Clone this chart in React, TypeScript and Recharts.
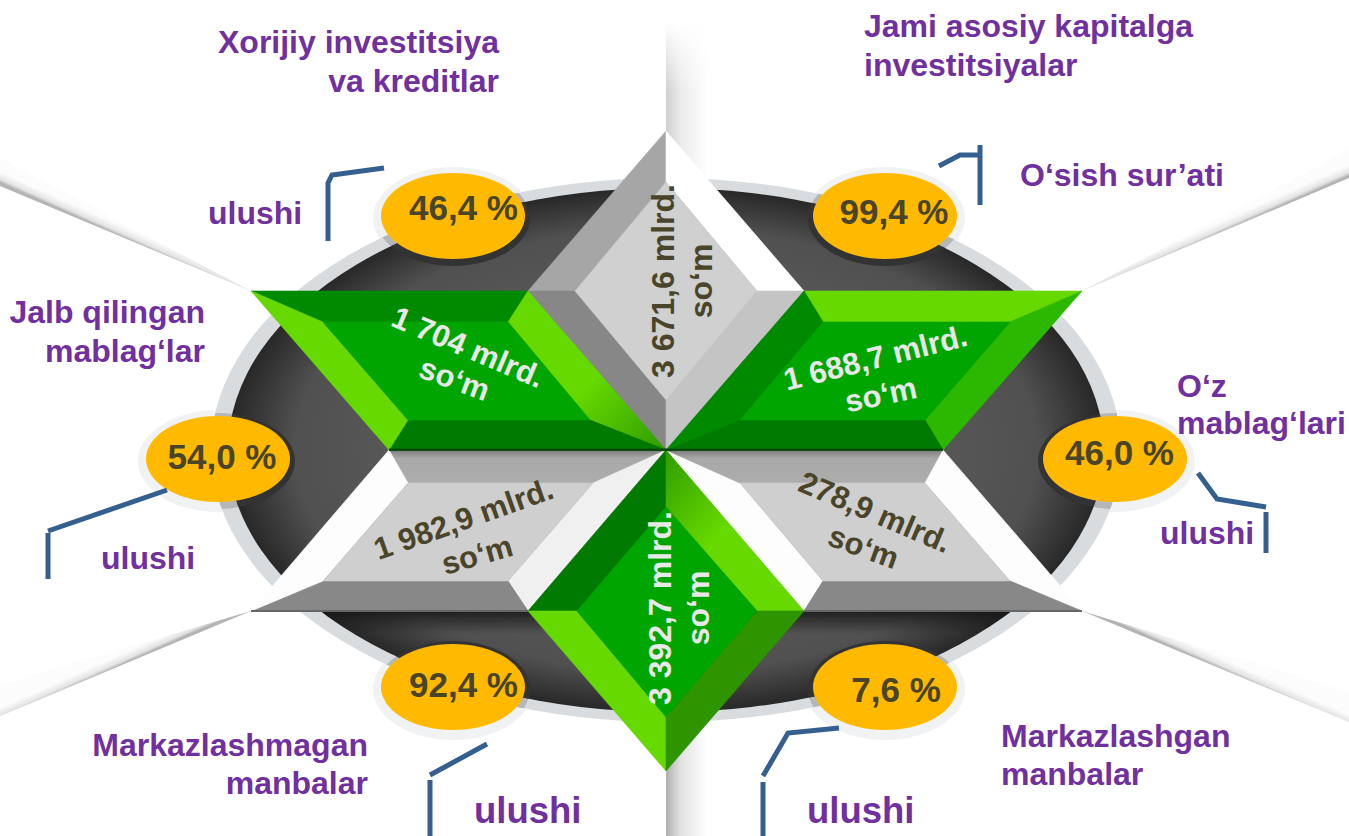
import React from "react";
import { ScatterChart, Scatter, XAxis, YAxis, Polygon } from "recharts";

const WIDTH = 1349;
const HEIGHT = 836;
const FONT = "'Liberation Sans', Arial, sans-serif";
const PURPLE = "#7030a0";
const OLIVE = "#4a452a";
const LIGHT = "#e8e8e8";
const ORANGE = "#ffba00";
const LINK = "#355f8f";

type Pt = { x: number; y: number };
const pts = (...v: number[][]): Pt[] => v.map(([x, y]) => ({ x, y }));

// fan shadows behind the oval
const fanShadows = [
  { fill: "url(#fanUL)", data: pts([0, 158], [251, 291], [0, 186]) },
  { fill: "url(#fanUR)", data: pts([1349, 150], [1082, 291], [1349, 178]) },
  { fill: "url(#fanLL)", data: pts([0, 685], [251, 611], [0, 716]) },
  { fill: "url(#fanLR)", data: pts([1349, 692], [1082, 611], [1349, 722]) },
  { fill: "url(#fanTop)", data: pts([666, 22], [750, 22], [750, 178], [666, 178]) },
  { fill: "url(#fanTopFade)", data: pts([666, 22], [750, 22], [750, 178], [666, 178]) },
  { fill: "url(#fanBottom)", data: pts([666, 730], [740, 730], [740, 836], [666, 836]) },
];

// oval extents (left/top, right/bottom)
const ringBounds = pts([211, 178], [1121, 722]);
const ovalBounds = pts([228, 188], [1104, 712]);
const lowerRimShadow = pts([300, 611], [1030, 611], [1030, 634], [300, 634]);

const facesTopDiamond = [
  { fill: "#a6a6a6", data: pts([666, 131], [666, 182], [575, 291], [528, 291]) },
  { fill: "#ffffff", data: pts([666, 131], [804, 291], [757, 291], [666, 182]) },
  { fill: "#878787", data: pts([528, 291], [575, 291], [666, 400], [666, 450]) },
  { fill: "#c4c4c4", data: pts([804, 291], [666, 450], [666, 400], [757, 291]) },
  { fill: "#d0d0d0", data: pts([666, 182], [757, 291], [666, 400], [575, 291]) },
];
const facesUpperLeft = [
  { fill: "#008a00", data: pts([251, 291], [528, 291], [508, 322], [323, 322]) },
  { fill: "url(#limeOut)", data: pts([528, 291], [666, 450], [590, 420], [508, 322]) },
  { fill: "#007a00", data: pts([666, 450], [389, 450], [408, 420], [590, 420]) },
  { fill: "#66d900", data: pts([389, 450], [251, 291], [323, 322], [408, 420]) },
  { fill: "#00a500", data: pts([323, 322], [508, 322], [590, 420], [408, 420]) },
];
const facesUpperRight = [
  { fill: "#66d900", data: pts([804, 291], [1082, 291], [1010, 322], [823, 322]) },
  { fill: "#2db800", data: pts([1082, 291], [943, 450], [925, 420], [1010, 322]) },
  { fill: "#007a00", data: pts([943, 450], [666, 450], [740, 420], [925, 420]) },
  { fill: "#008a00", data: pts([666, 450], [804, 291], [823, 322], [740, 420]) },
  { fill: "#00a500", data: pts([823, 322], [1010, 322], [925, 420], [740, 420]) },
];
const facesLowerLeft = [
  { fill: "url(#grayTop)", data: pts([389, 450], [666, 450], [593, 483], [408, 483]) },
  { fill: "#f0f0f0", data: pts([666, 450], [528, 611], [508, 581], [593, 483]) },
  { fill: "#888888", data: pts([528, 611], [251, 611], [323, 581], [508, 581]) },
  { fill: "#fdfdfd", data: pts([251, 611], [389, 450], [408, 483], [323, 581]) },
  { fill: "#cfcfcf", data: pts([408, 483], [593, 483], [508, 581], [323, 581]) },
];
const facesLowerRight = [
  { fill: "#fdfdfd", data: pts([666, 450], [804, 611], [823, 581], [740, 483]) },
  { fill: "url(#grayTop)", data: pts([666, 450], [943, 450], [925, 483], [740, 483]) },
  { fill: "#fdfdfd", data: pts([943, 450], [1082, 611], [1010, 581], [925, 483]) },
  { fill: "#888888", data: pts([1082, 611], [804, 611], [823, 581], [1010, 581]) },
  { fill: "#cfcfcf", data: pts([740, 483], [925, 483], [1010, 581], [823, 581]) },
];
const facesBottomDiamond = [
  { fill: "#007a00", data: pts([666, 450], [666, 507], [577, 611], [528, 611]) },
  { fill: "url(#limeIn)", data: pts([666, 450], [804, 611], [757, 611], [666, 507]) },
  { fill: "#66d900", data: pts([528, 611], [577, 611], [666, 717], [666, 771]) },
  { fill: "#2e9400", data: pts([804, 611], [666, 771], [666, 717], [757, 611]) },
  { fill: "#00a500", data: pts([666, 507], [757, 611], [666, 717], [577, 611]) },
];

// thin dark seams under the upper shapes and along the lower ones
const seams = [
  { fill: "#0b4a0b", data: pts([389, 448.5], [943, 448.5], [943, 451], [389, 451]) },
  { fill: "#666666", data: pts([251, 610], [528, 610], [528, 612], [251, 612]) },
  { fill: "#666666", data: pts([804, 610], [1082, 610], [1082, 612], [804, 612]) },
];

// percent badges: centre of each oval
const badgeCentres = pts([453, 216], [885, 216], [218, 459], [1115, 459], [453, 687], [885, 687]);
const badgeRadiusX = 72;
const badgeRadiusY = 43;

const connectors = [
  pts([384, 168], [332, 175], [328, 183], [328, 241]),
  pts([939, 166], [960, 155], [980, 155]),
  pts([980, 145], [980, 205]),
  pts([167, 490], [48, 531]),
  pts([48, 533], [48, 579]),
  pts([487, 744], [430, 775]),
  pts([430, 780], [430, 836]),
  pts([839, 728], [788, 733], [763, 776]),
  pts([763, 782], [763, 836]),
  pts([1198, 473], [1217, 499], [1266, 507]),
  pts([1266, 512], [1266, 553]),
];

type Label = { x: number; y: number; text: string; anchor?: string; size?: number; color?: string; rotate?: number };

const titleLabels: Label[] = [
  { x: 499, y: 53, text: "Xorijiy investitsiya", anchor: "end" },
  { x: 499, y: 92, text: "va kreditlar", anchor: "end" },
  { x: 864, y: 37, text: "Jami asosiy kapitalga" },
  { x: 864, y: 76, text: "investitsiyalar" },
  { x: 1020, y: 186, text: "O‘sish sur’ati" },
  { x: 205, y: 323, text: "Jalb qilingan", anchor: "end" },
  { x: 205, y: 362, text: "mablag‘lar", anchor: "end" },
  { x: 1177, y: 397, text: "O‘z" },
  { x: 1177, y: 434, text: "mablag‘lari" },
  { x: 368, y: 756, text: "Markazlashmagan", anchor: "end" },
  { x: 368, y: 794, text: "manbalar", anchor: "end" },
  { x: 1001, y: 747, text: "Markazlashgan" },
  { x: 1001, y: 785, text: "manbalar" },
  { x: 208, y: 224, text: "ulushi" },
  { x: 101, y: 569, text: "ulushi" },
  { x: 1160, y: 544, text: "ulushi" },
  { x: 474, y: 823, text: "ulushi", size: 36.5 },
  { x: 807, y: 823, text: "ulushi", size: 36.5 },
];

const percentLabels: Label[] = [
  { x: 463.5, y: 220, text: "46,4 %", anchor: "middle" },
  { x: 894, y: 224, text: "99,4 %", anchor: "middle" },
  { x: 222, y: 469, text: "54,0 %", anchor: "middle" },
  { x: 1119.5, y: 465, text: "46,0 %", anchor: "middle" },
  { x: 463.5, y: 697, text: "92,4 %", anchor: "middle" },
  { x: 896, y: 702, text: "7,6 %", anchor: "middle" },
];

const amountLabels: Label[] = [
  { x: 464, y: 357, text: "1 704 mlrd.", rotate: 23, color: LIGHT, size: 31 },
  { x: 451, y: 389, text: "so‘m", rotate: 20, color: LIGHT, size: 31 },
  { x: 878, y: 368, text: "1 688,7 mlrd.", rotate: -14, color: LIGHT, size: 31 },
  { x: 883, y: 405, text: "so‘m", rotate: -12, color: LIGHT, size: 31 },
  { x: 467, y: 529, text: "1 982,9 mlrd.", rotate: -19.5, color: OLIVE, size: 31 },
  { x: 480, y: 565, text: "so‘m", rotate: -16, color: OLIVE, size: 31 },
  { x: 871, y: 522, text: "278,9 mlrd.", rotate: 23, color: OLIVE, size: 31 },
  { x: 860, y: 557, text: "so‘m", rotate: 20, color: OLIVE, size: 31 },
  { x: 674, y: 281, text: "3 671,6 mlrd.", rotate: -90, color: OLIVE },
  { x: 712, y: 281, text: "so‘m", rotate: -90, color: OLIVE },
  { x: 671, y: 608, text: "3 392,7 mlrd.", rotate: -90, color: LIGHT },
  { x: 709, y: 608, text: "so‘m", rotate: -90, color: LIGHT },
];

const noDot = () => <g />;

const polygonLine = (fill: string, seam = true) => (p: any) => (
  <Polygon points={p.points} fill={fill} stroke={seam ? fill : "none"} strokeWidth={seam ? 0.6 : 0} />
);

const ellipseLine = (fill: string) => (p: any) => {
  const [a, b] = p.points;
  return (
    <ellipse cx={(a.x + b.x) / 2} cy={(a.y + b.y) / 2} rx={(b.x - a.x) / 2} ry={(b.y - a.y) / 2} fill={fill} />
  );
};

const badgeBounds = (c: Pt, grow: number, dy = 0) =>
  pts(
    [c.x - badgeRadiusX - grow, c.y - badgeRadiusY - grow + dy],
    [c.x + badgeRadiusX + grow, c.y + badgeRadiusY + grow + dy]
  );

const textShape = (size: number, defaultColor: string) => (p: any) => {
  const d: Label = p.payload;
  const s = d.size ?? size;
  // rotated labels are centred on their anchor, the straight ones keep their side
  const anchor = d.rotate ? "middle" : d.anchor ?? "start";
  return (
    <text
      x={p.cx}
      y={p.cy}
      fontFamily={FONT}
      fontWeight="bold"
      fontSize={s}
      fill={d.color ?? defaultColor}
      textAnchor={anchor}
      transform={d.rotate ? `rotate(${d.rotate} ${p.cx} ${p.cy})` : undefined}
    >
      {d.text}
    </text>
  );
};

const faceGroup = (name: string, faces: { fill: string; data: Pt[] }[], seam = true) =>
  faces.map((f, i) => (
    <Scatter
      key={`${name}-${i}`}
      data={f.data}
      line={polygonLine(f.fill, seam)}
      shape={noDot}
      isAnimationActive={false}
    />
  ));

// gradient runs across the fold line, from the edge into the paper
const foldGradient = (id: string, x1: number, y1: number, x2: number, y2: number) => (
  <linearGradient id={id} gradientUnits="userSpaceOnUse" x1={x1} y1={y1} x2={x2} y2={y2}>
    <stop offset="0%" stopColor="#b4b4b4" />
    <stop offset="30%" stopColor="#e4e4e4" />
    <stop offset="100%" stopColor="#fcfcfc" />
  </linearGradient>
);

export default function App() {
  return (
    <div style={{ position: "absolute", left: 0, top: 0, width: WIDTH, height: HEIGHT, background: "#fff" }}>
      <ScatterChart width={WIDTH} height={HEIGHT} margin={{ top: 0, right: 0, bottom: 0, left: 0 }}>
        <defs>
          {foldGradient("fanUL", 125, 238, 129, 229)}
          {foldGradient("fanUR", 1215, 235, 1211, 226)}
          {foldGradient("fanLL", 125, 663, 121, 654)}
          {foldGradient("fanLR", 1215, 666, 1219, 657)}
          <linearGradient id="fanTop" x1="0" y1="0" x2="1" y2="0">
            <stop offset="0%" stopColor="#cfcfcf" />
            <stop offset="18%" stopColor="#ebebeb" />
            <stop offset="50%" stopColor="#ffffff" />
          </linearGradient>
          <linearGradient id="fanTopFade" x1="0" y1="0" x2="0" y2="1">
            <stop offset="0%" stopColor="#ffffff" stopOpacity={1} />
            <stop offset="45%" stopColor="#ffffff" stopOpacity={0} />
          </linearGradient>
          <linearGradient id="fanBottom" x1="0" y1="0" x2="1" y2="0">
            <stop offset="0%" stopColor="#b0b0b0" />
            <stop offset="20%" stopColor="#e2e2e2" />
            <stop offset="55%" stopColor="#ffffff" />
          </linearGradient>
          <linearGradient id="grayTop" x1="0" y1="0" x2="0" y2="1">
            <stop offset="0%" stopColor="#7d7d7d" />
            <stop offset="25%" stopColor="#a8a8a8" />
            <stop offset="100%" stopColor="#adadad" />
          </linearGradient>
          <linearGradient id="limeOut" x1="0" y1="0" x2="1" y2="1">
            <stop offset="55%" stopColor="#66d900" />
            <stop offset="100%" stopColor="#2f9c00" />
          </linearGradient>
          <linearGradient id="limeIn" x1="0" y1="0" x2="1" y2="1">
            <stop offset="0%" stopColor="#2f9c00" />
            <stop offset="45%" stopColor="#66d900" />
          </linearGradient>
          <linearGradient id="rimShadow" x1="0" y1="0" x2="0" y2="1">
            <stop offset="0%" stopColor="#151515" stopOpacity={0.85} />
            <stop offset="100%" stopColor="#151515" stopOpacity={0} />
          </linearGradient>
          <radialGradient id="ovalFill" cx="0.5" cy="0.5" r="0.5">
            <stop offset="55%" stopColor="#5a5a5a" />
            <stop offset="85%" stopColor="#505050" />
            <stop offset="100%" stopColor="#282828" />
          </radialGradient>
          <clipPath id="ringClip">
            <ellipse cx={666} cy={450} rx={455} ry={272} />
          </clipPath>
          <clipPath id="ovalClip">
            <ellipse cx={666} cy={450} rx={438} ry={262} />
          </clipPath>
        </defs>
        <XAxis type="number" dataKey="x" domain={[0, WIDTH]} hide />
        <YAxis type="number" dataKey="y" domain={[0, HEIGHT]} reversed hide width={0} />

        {faceGroup("fan", fanShadows, false)}

        {badgeCentres.map((c, i) => (
          <Scatter key={`halo-${i}`} data={badgeBounds(c, 8, 2)} line={ellipseLine("#f1f2f3")} shape={noDot} isAnimationActive={false} />
        ))}
        <Scatter data={ringBounds} line={ellipseLine("#d9dcde")} shape={noDot} isAnimationActive={false} />
        {badgeCentres.map((c, i) => (
          <Scatter
            key={`ring-shade-${i}`}
            data={badgeBounds(c, 5, 2)}
            line={(p: any) => <g clipPath="url(#ringClip)">{ellipseLine("#b4b6b8")(p)}</g>}
            shape={noDot}
            isAnimationActive={false}
          />
        ))}
        <Scatter data={ovalBounds} line={ellipseLine("url(#ovalFill)")} shape={noDot} isAnimationActive={false} />
        <Scatter
          data={lowerRimShadow}
          line={(p: any) => <g clipPath="url(#ovalClip)">{polygonLine("url(#rimShadow)", false)(p)}</g>}
          shape={noDot}
          isAnimationActive={false}
        />
        {badgeCentres.map((c, i) => (
          <Scatter
            key={`shade-${i}`}
            data={badgeBounds(c, 5, 2)}
            line={(p: any) => <g clipPath="url(#ovalClip)">{ellipseLine("#333333")(p)}</g>}
            shape={noDot}
            isAnimationActive={false}
          />
        ))}

        {faceGroup("top", facesTopDiamond)}
        {faceGroup("ul", facesUpperLeft)}
        {faceGroup("ur", facesUpperRight)}
        {faceGroup("ll", facesLowerLeft)}
        {faceGroup("lr", facesLowerRight)}
        {faceGroup("bottom", facesBottomDiamond)}
        {faceGroup("seam", seams, false)}

        {badgeCentres.map((c, i) => (
          <Scatter key={`badge-${i}`} data={badgeBounds(c, 0)} line={ellipseLine(ORANGE)} shape={noDot} isAnimationActive={false} />
        ))}

        {connectors.map((c, i) => (
          <Scatter
            key={`link-${i}`}
            data={c}
            line={{ stroke: LINK, strokeWidth: 5 }}
            lineJointType="linear"
            shape={noDot}
            isAnimationActive={false}
          />
        ))}

        <Scatter data={titleLabels} shape={textShape(32, PURPLE)} isAnimationActive={false} />
        <Scatter data={percentLabels} shape={textShape(35, OLIVE)} isAnimationActive={false} />
        <Scatter data={amountLabels} shape={textShape(32, OLIVE)} isAnimationActive={false} />
      </ScatterChart>
    </div>
  );
}
